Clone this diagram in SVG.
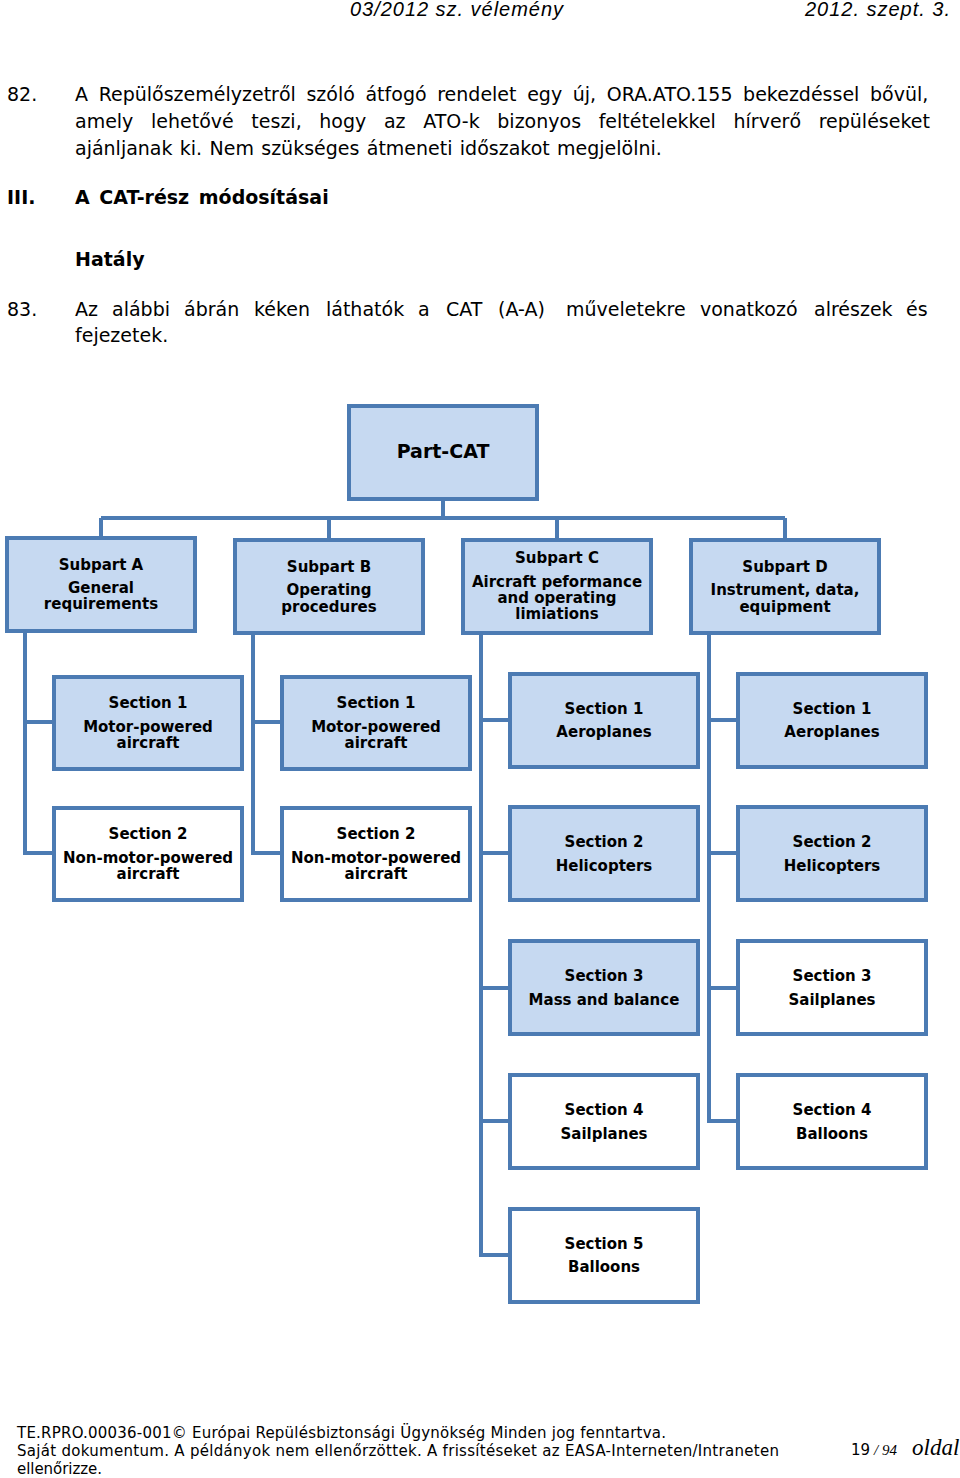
<svg xmlns="http://www.w3.org/2000/svg" width="960" height="1478" viewBox="0 0 960 1478">
<style>
.bg{fill:#ffffff}
.p{font-family:"DejaVu Sans","Liberation Sans",sans-serif;font-size:19px;fill:#000}
.pb{font-family:"DejaVu Sans","Liberation Sans",sans-serif;font-size:19px;font-weight:bold;fill:#000}
.hd{font-family:"Liberation Sans",Arial,sans-serif;font-size:20px;font-style:italic;fill:#000}
.ft{font-family:"DejaVu Sans","Liberation Sans",sans-serif;font-size:15px;fill:#000}
.box{stroke:#4c7bb3;stroke-width:4}
.blue{fill:#c6d9f1}
.white{fill:#ffffff}
.t{font-family:"DejaVu Sans","Verdana",sans-serif;font-size:15px;font-weight:bold;fill:#000;text-anchor:middle}
.big{font-size:19px}
.con{fill:none;stroke:#4c7bb3;stroke-width:4;stroke-linejoin:miter}
</style>
<rect class="bg" x="0" y="0" width="960" height="1478"/>

<!-- header -->
<text class="hd" x="350" y="16" textLength="213" lengthAdjust="spacing">03/2012 sz. vélemény</text>
<text class="hd" x="805" y="16" textLength="145" lengthAdjust="spacing">2012. szept. 3.</text>

<!-- body text -->
<text class="p" x="7" y="101">82.</text>
<text class="p" x="75" y="101" word-spacing="4.6">A Repülőszemélyzetről szóló átfogó rendelet egy új, ORA.ATO.155 bekezdéssel bővül,</text>
<text class="p" x="75" y="128" word-spacing="11.6">amely lehetővé teszi, hogy az ATO-k bizonyos feltételekkel hírverő repüléseket</text>
<text class="p" x="75" y="155" word-spacing="1.3">ajánljanak ki. Nem szükséges átmeneti időszakot megjelölni.</text>
<text class="pb" x="7" y="204">III.</text>
<text class="pb" x="75" y="204" word-spacing="3">A CAT-rész módosításai</text>
<text class="pb" x="75" y="266">Hatály</text>
<text class="p" x="7" y="316">83.</text>
<text class="p" y="316"><tspan x="75">Az</tspan><tspan x="112">alábbi</tspan><tspan x="184">ábrán</tspan><tspan x="254">kéken</tspan><tspan x="326">láthatók</tspan><tspan x="418">a</tspan><tspan x="446">CAT</tspan><tspan x="498">(A-A)</tspan><tspan x="566">műveletekre</tspan><tspan x="700">vonatkozó</tspan><tspan x="814">alrészek</tspan><tspan x="906">és</tspan></text>
<text class="p" x="75" y="342">fejezetek.</text>

<!-- connectors -->
<g id="connectors" class="con">
<path d="M443 500V518M101 518H785M101 518V537M329 518V539M557 518V539M785 518V539"/>
<path d="M25 631V855M25 722H53M25 853H53"/>
<path d="M253 633V855M253 722H281M253 853H281"/>
<path d="M481 634V1257M481 720H509M481 853H509M481 988H509M481 1121H509M481 1255H509"/>
<path d="M709 634V1123M709 720H737M709 853H737M709 988H737M709 1121H737"/>
</g>

<!-- nodes -->
<g id="part-cat"><rect class="box blue" x="349" y="406" width="188" height="93"/><text class="t big" x="443" y="458">Part-CAT</text></g>

<g id="subpart-a"><rect class="box blue" x="7" y="538" width="188" height="93"/><text class="t" x="101" y="570">Subpart A</text><text class="t" x="101" y="593">General</text><text class="t" x="101" y="609">requirements</text></g>
<g id="subpart-b"><rect class="box blue" x="235" y="540" width="188" height="93"/><text class="t" x="329" y="572">Subpart B</text><text class="t" x="329" y="595">Operating</text><text class="t" x="329" y="612">procedures</text></g>
<g id="subpart-c"><rect class="box blue" x="463" y="540" width="188" height="93"/><text class="t" x="557" y="563">Subpart C</text><text class="t" x="557" y="587">Aircraft peformance</text><text class="t" x="557" y="603">and operating</text><text class="t" x="557" y="619">limiations</text></g>
<g id="subpart-d"><rect class="box blue" x="691" y="540" width="188" height="93"/><text class="t" x="785" y="572">Subpart D</text><text class="t" x="785" y="595">Instrument, data,</text><text class="t" x="785" y="612">equipment</text></g>

<g id="a-s1"><rect class="box blue" x="54" y="677" width="188" height="92"/><text class="t" x="148" y="708">Section 1</text><text class="t" x="148" y="732">Motor-powered</text><text class="t" x="148" y="748">aircraft</text></g>
<g id="a-s2"><rect class="box white" x="54" y="808" width="188" height="92"/><text class="t" x="148" y="839">Section 2</text><text class="t" x="148" y="863">Non-motor-powered</text><text class="t" x="148" y="879">aircraft</text></g>

<g id="b-s1"><rect class="box blue" x="282" y="677" width="188" height="92"/><text class="t" x="376" y="708">Section 1</text><text class="t" x="376" y="732">Motor-powered</text><text class="t" x="376" y="748">aircraft</text></g>
<g id="b-s2"><rect class="box white" x="282" y="808" width="188" height="92"/><text class="t" x="376" y="839">Section 2</text><text class="t" x="376" y="863">Non-motor-powered</text><text class="t" x="376" y="879">aircraft</text></g>

<g id="c-s1"><rect class="box blue" x="510" y="674" width="188" height="93"/><text class="t" x="604" y="714">Section 1</text><text class="t" x="604" y="737">Aeroplanes</text></g>
<g id="c-s2"><rect class="box blue" x="510" y="807" width="188" height="93"/><text class="t" x="604" y="847">Section 2</text><text class="t" x="604" y="871">Helicopters</text></g>
<g id="c-s3"><rect class="box blue" x="510" y="941" width="188" height="93"/><text class="t" x="604" y="981">Section 3</text><text class="t" x="604" y="1005">Mass and balance</text></g>
<g id="c-s4"><rect class="box white" x="510" y="1075" width="188" height="93"/><text class="t" x="604" y="1115">Section 4</text><text class="t" x="604" y="1139">Sailplanes</text></g>
<g id="c-s5"><rect class="box white" x="510" y="1209" width="188" height="93"/><text class="t" x="604" y="1249">Section 5</text><text class="t" x="604" y="1272">Balloons</text></g>

<g id="d-s1"><rect class="box blue" x="738" y="674" width="188" height="93"/><text class="t" x="832" y="714">Section 1</text><text class="t" x="832" y="737">Aeroplanes</text></g>
<g id="d-s2"><rect class="box blue" x="738" y="807" width="188" height="93"/><text class="t" x="832" y="847">Section 2</text><text class="t" x="832" y="871">Helicopters</text></g>
<g id="d-s3"><rect class="box white" x="738" y="941" width="188" height="93"/><text class="t" x="832" y="981">Section 3</text><text class="t" x="832" y="1005">Sailplanes</text></g>
<g id="d-s4"><rect class="box white" x="738" y="1075" width="188" height="93"/><text class="t" x="832" y="1115">Section 4</text><text class="t" x="832" y="1139">Balloons</text></g>

<!-- footer -->
<text class="ft" x="17" y="1438" textLength="649" lengthAdjust="spacing">TE.RPRO.00036-001© Európai Repülésbiztonsági Ügynökség Minden jog fenntartva.</text>
<text class="ft" x="17" y="1456" textLength="762" lengthAdjust="spacing">Saját dokumentum. A példányok nem ellenőrzöttek. A frissítéseket az EASA-Interneten/Intraneten</text>
<text class="ft" x="17" y="1474" textLength="85" lengthAdjust="spacing">ellenőrizze.</text>
<text x="851" y="1455" font-family="DejaVu Sans,sans-serif" font-size="15">19</text>
<text x="874" y="1455" font-family="Liberation Serif,serif" font-size="15" font-style="italic">/ 94</text>
<text x="912" y="1455" font-family="Liberation Serif,serif" font-size="23" font-style="italic">oldal</text>
</svg>
